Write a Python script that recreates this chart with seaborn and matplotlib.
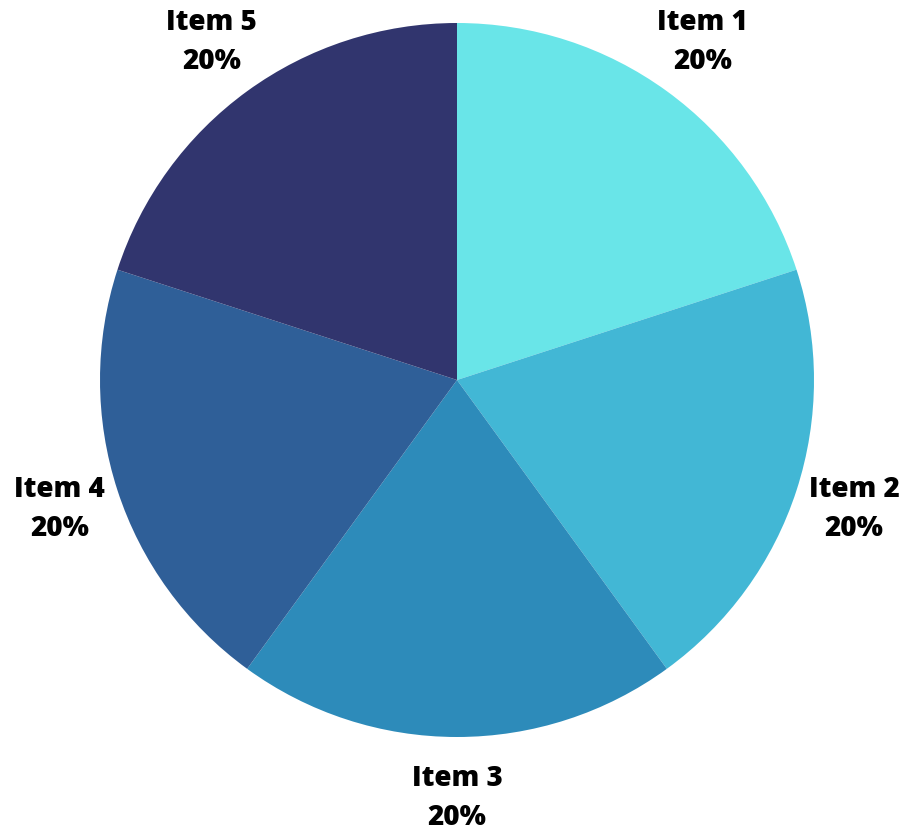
import matplotlib
matplotlib.use("Agg")
import matplotlib.pyplot as plt
import seaborn as sns

labels = ["Item 1", "Item 2", "Item 3", "Item 4", "Item 5"]
values = [20, 20, 20, 20, 20]
colors = ["#69E5E8", "#42B7D5", "#2D8BBA", "#2F5F98", "#31356E"]

sns.set_style("white")
plt.rcParams["font.family"] = ["Open Sans", "DejaVu Sans"]

W, H = 902, 830
cx, cy, R = 457, 380, 357

fig = plt.figure(figsize=(W / 100, H / 100), dpi=100)
ax = fig.add_axes([0, 0, 1, 1])
palette = sns.color_palette(colors)

total = sum(values)
texts = [f"{l}\n{v / total * 100:.0f}%" for l, v in zip(labels, values)]
wedges, txts = ax.pie(values, colors=palette, startangle=90, counterclock=False,
                      labels=texts, labeldistance=1.17,
                      wedgeprops=dict(linewidth=0))
for t in txts:
    t.set_horizontalalignment("center")
    t.set_verticalalignment("center")
    t.set_fontsize(20)
    t.set_fontweight(900)
    t.set_linespacing(1.45)
    t.set_color("black")

ax.set_xlim(-cx / R, (W - cx) / R)
ax.set_ylim(-(H - cy) / R, cy / R)
ax.set_aspect("auto")
ax.axis("off")
fig.savefig("out.png", dpi=100, facecolor="white")
